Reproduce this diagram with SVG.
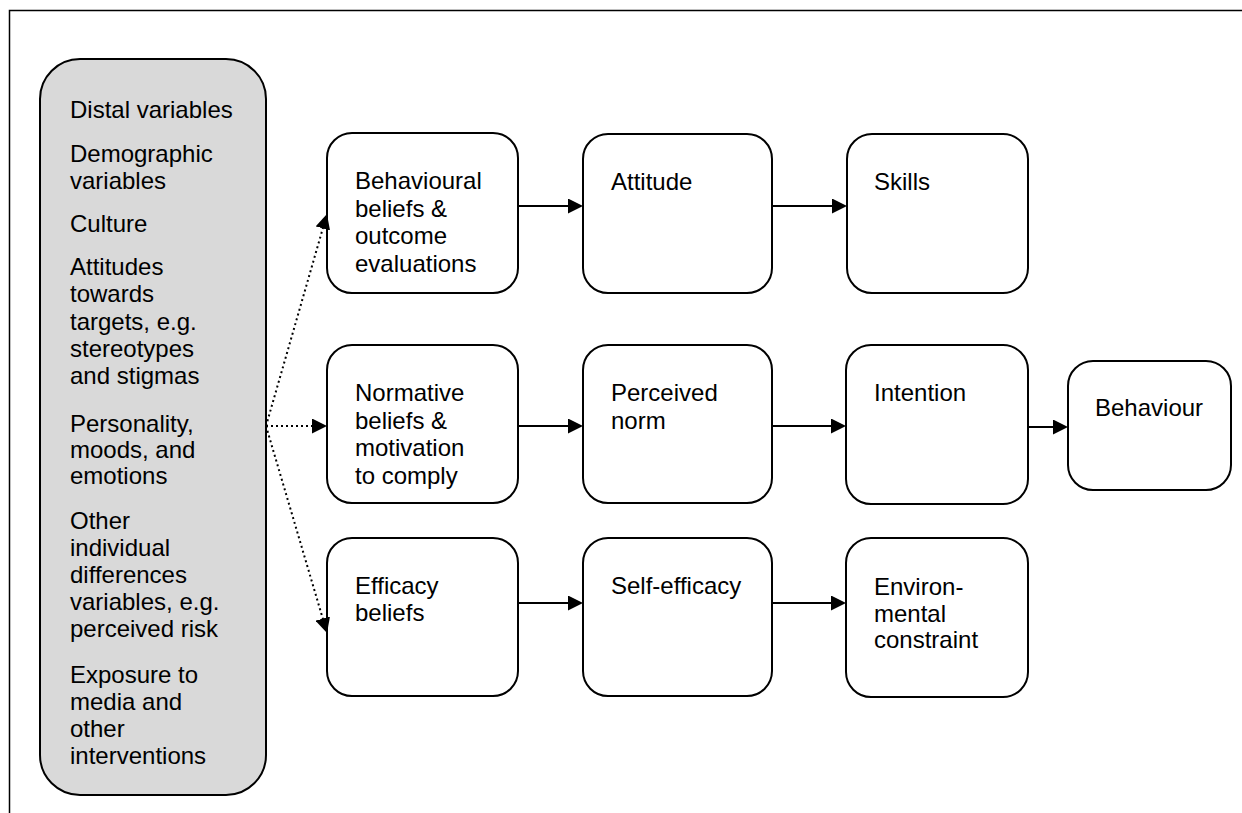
<svg xmlns="http://www.w3.org/2000/svg" width="1242" height="813" viewBox="0 0 1242 813">
<style>
text { font-family: "Liberation Sans", Arial, sans-serif; font-size: 24px; fill: #000; }
.box { fill: #fff; stroke: #000; stroke-width: 2; }
.grey { fill: #d9d9d9; stroke: #000; stroke-width: 2; }
.solid { stroke: #000; stroke-width: 2; fill: none; marker-end: url(#arrow); }
.dot { stroke: #000; stroke-width: 2; stroke-dasharray: 2 3; fill: none; marker-end: url(#arrow); }
</style>
<defs>
<marker id="arrow" markerUnits="userSpaceOnUse" markerWidth="15" markerHeight="15" refX="5" refY="7.5" orient="auto">
<path d="M0,0 L15,7.5 L0,15 z" fill="#000"/>
</marker>
</defs>
<rect x="0" y="0" width="1242" height="813" fill="#fff"/>
<path d="M9.5,813 V10.5 H1242" fill="none" stroke="#000" stroke-width="1.5"/>

<g id="distal">
<rect class="grey" x="40" y="59" width="226" height="736" rx="40" ry="40"/>
<text x="70"><tspan x="70" y="118">Distal variables</tspan><tspan x="70" y="162">Demographic</tspan><tspan x="70" y="189">variables</tspan><tspan x="70" y="232">Culture</tspan><tspan x="70" y="275">Attitudes</tspan><tspan x="70" y="302">towards</tspan><tspan x="70" y="330">targets, e.g.</tspan><tspan x="70" y="357">stereotypes</tspan><tspan x="70" y="384">and stigmas</tspan><tspan x="70" y="432">Personality,</tspan><tspan x="70" y="458">moods, and</tspan><tspan x="70" y="484">emotions</tspan><tspan x="70" y="529">Other</tspan><tspan x="70" y="556">individual</tspan><tspan x="70" y="583">differences</tspan><tspan x="70" y="610">variables, e.g.</tspan><tspan x="70" y="637">perceived risk</tspan><tspan x="70" y="683">Exposure to</tspan><tspan x="70" y="710">media and</tspan><tspan x="70" y="737">other</tspan><tspan x="70" y="764">interventions</tspan></text>
</g>

<g id="behavioural-beliefs">
<rect class="box" x="327" y="133" width="191" height="160" rx="25"/>
<text><tspan x="355" y="189">Behavioural</tspan><tspan x="355" y="216.5">beliefs &amp;</tspan><tspan x="355" y="244">outcome</tspan><tspan x="355" y="271.5">evaluations</tspan></text>
</g>
<g id="attitude">
<rect class="box" x="583" y="134" width="189" height="159" rx="25"/>
<text x="611" y="190">Attitude</text>
</g>
<g id="skills">
<rect class="box" x="847" y="134" width="181" height="159" rx="25"/>
<text x="874" y="190">Skills</text>
</g>

<g id="normative-beliefs">
<rect class="box" x="327" y="345" width="191" height="158" rx="25"/>
<text><tspan x="355" y="401">Normative</tspan><tspan x="355" y="428.5">beliefs &amp;</tspan><tspan x="355" y="456">motivation</tspan><tspan x="355" y="483.5">to comply</tspan></text>
</g>
<g id="perceived-norm">
<rect class="box" x="583" y="345" width="189" height="158" rx="25"/>
<text><tspan x="611" y="401">Perceived</tspan><tspan x="611" y="428.5">norm</tspan></text>
</g>
<g id="intention">
<rect class="box" x="846" y="345" width="182" height="159" rx="25"/>
<text x="874" y="401">Intention</text>
</g>
<g id="behaviour">
<rect class="box" x="1068" y="361" width="163" height="129" rx="25"/>
<text x="1095" y="416">Behaviour</text>
</g>

<g id="efficacy-beliefs">
<rect class="box" x="327" y="538" width="191" height="158" rx="25"/>
<text><tspan x="355" y="594">Efficacy</tspan><tspan x="355" y="621">beliefs</tspan></text>
</g>
<g id="self-efficacy">
<rect class="box" x="583" y="538" width="189" height="158" rx="25"/>
<text x="611" y="594">Self-efficacy</text>
</g>
<g id="environmental-constraint">
<rect class="box" x="846" y="538" width="182" height="159" rx="25"/>
<text><tspan x="874" y="595">Environ-</tspan><tspan x="874" y="621.5">mental</tspan><tspan x="874" y="648">constraint</tspan></text>
</g>

<g id="connectors">
<line class="dot" x1="266" y1="426" x2="324.2" y2="223.6"/>
<line class="dot" x1="266" y1="426" x2="317" y2="426"/>
<line class="dot" x1="266" y1="426" x2="324.2" y2="623.4"/>
<line class="solid" x1="518" y1="206" x2="573" y2="206"/>
<line class="solid" x1="772" y1="206" x2="837" y2="206"/>
<line class="solid" x1="518" y1="426" x2="573" y2="426"/>
<line class="solid" x1="772" y1="426" x2="836" y2="426"/>
<line class="solid" x1="1028" y1="427" x2="1058" y2="427"/>
<line class="solid" x1="518" y1="603" x2="573" y2="603"/>
<line class="solid" x1="772" y1="603" x2="836" y2="603"/>
</g>
</svg>
